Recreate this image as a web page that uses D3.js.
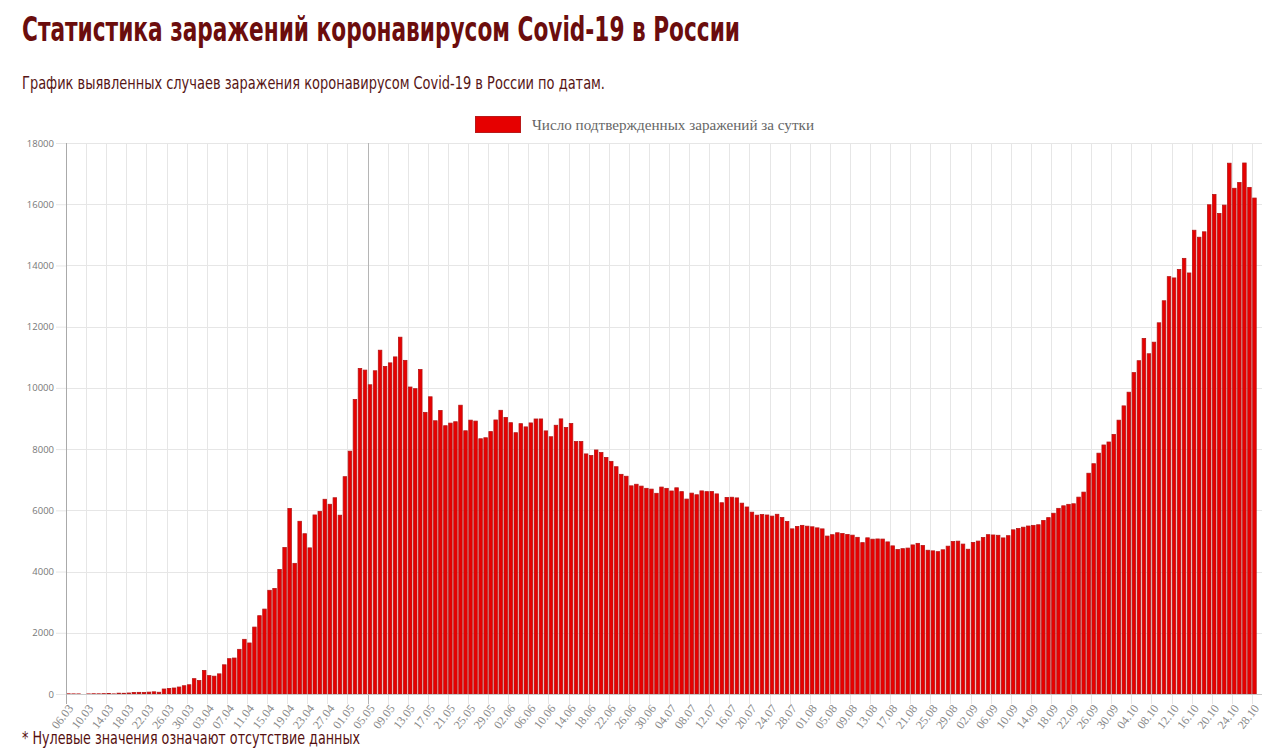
<!DOCTYPE html>
<html>
<head>
<meta charset="utf-8">
<script src="https://cdn.jsdelivr.net/npm/d3@7"></script>
<style>
  html, body { margin: 0; padding: 0; background: #fff; }
  svg { display: block; }
</style>
</head>
<body>
<svg id="chart" width="1280" height="749"></svg>
<script>
// ---------------- DATA ----------------
const titleText = "Статистика заражений коронавирусом Covid-19 в России";
const subtitleText = "График выявленных случаев заражения коронавирусом Covid-19 в России по датам.";
const noteText = "* Нулевые значения означают отсутствие данных";
const seriesName = "Число подтвержденных заражений за сутки";

const datesMar = ["06.03","07.03","08.03","09.03","10.03","11.03","12.03","13.03","14.03","15.03","16.03","17.03","18.03","19.03","20.03","21.03","22.03","23.03","24.03","25.03","26.03","27.03","28.03","29.03","30.03","31.03"];
const datesApr = ["01.04","02.04","03.04","04.04","05.04","06.04","07.04","08.04","09.04","10.04","11.04","12.04","13.04","14.04","15.04","16.04","17.04","18.04","19.04","20.04","21.04","22.04","23.04","24.04","25.04","26.04","27.04","28.04","29.04","30.04"];
const datesMay = ["01.05","02.05","03.05","04.05","05.05","06.05","07.05","08.05","09.05","10.05","11.05","12.05","13.05","14.05","15.05","16.05","17.05","18.05","19.05","20.05","21.05","22.05","23.05","24.05","25.05","26.05","27.05","28.05","29.05","30.05","31.05"];
const datesJun = ["01.06","02.06","03.06","04.06","05.06","06.06","07.06","08.06","09.06","10.06","11.06","12.06","13.06","14.06","15.06","16.06","17.06","18.06","19.06","20.06","21.06","22.06","23.06","24.06","25.06","26.06","27.06","28.06","29.06","30.06"];
const datesJul = ["01.07","02.07","03.07","04.07","05.07","06.07","07.07","08.07","09.07","10.07","11.07","12.07","13.07","14.07","15.07","16.07","17.07","18.07","19.07","20.07","21.07","22.07","23.07","24.07","25.07","26.07","27.07","28.07","29.07","30.07","31.07"];
const datesAug = ["01.08","02.08","03.08","04.08","05.08","06.08","07.08","08.08","09.08","10.08","11.08","12.08","13.08","14.08","15.08","16.08","17.08","18.08","19.08","20.08","21.08","22.08","23.08","24.08","25.08","26.08","27.08","28.08","29.08","30.08","31.08"];
const datesSep = ["01.09","02.09","03.09","04.09","05.09","06.09","07.09","08.09","09.09","10.09","11.09","12.09","13.09","14.09","15.09","16.09","17.09","18.09","19.09","20.09","21.09","22.09","23.09","24.09","25.09","26.09","27.09","28.09","29.09","30.09"];
const datesOct = ["01.10","02.10","03.10","04.10","05.10","06.10","07.10","08.10","09.10","10.10","11.10","12.10","13.10","14.10","15.10","16.10","17.10","18.10","19.10","20.10","21.10","22.10","23.10","24.10","25.10","26.10","27.10","28.10","29.10"];

const casesMar = [6,4,3,0,3,8,6,11,14,4,27,24,33,52,54,53,61,71,57,163,182,196,228,270,302,501];
const casesApr = [440,771,601,582,658,954,1154,1175,1459,1786,1667,2186,2558,2774,3388,3448,4070,4785,6060,4268,5642,5236,4774,5849,5966,6361,6198,6411,5841,7099];
const casesMay = [7933,9623,10633,10581,10102,10559,11231,10699,10817,11012,11656,10899,10028,9974,10598,9200,9709,8926,9263,8764,8849,8894,9434,8599,8946,8915,8338,8371,8572,8952,9268];
const casesJun = [9035,8863,8536,8831,8726,8855,8984,8985,8595,8404,8779,8987,8706,8835,8246,8248,7843,7790,7972,7889,7728,7600,7425,7176,7113,6800,6852,6791,6719,6693];
const casesJul = [6556,6760,6718,6632,6736,6611,6368,6562,6509,6635,6611,6615,6537,6248,6422,6428,6406,6234,6109,5940,5842,5862,5848,5811,5871,5765,5635,5395,5475,5509,5482];
const casesAug = [5462,5427,5394,5159,5204,5267,5241,5212,5189,5118,4945,5102,5057,5065,5061,4969,4839,4718,4748,4767,4870,4921,4852,4696,4676,4650,4711,4829,4980,4993,4897];
const casesSep = [4729,4952,4995,5110,5205,5195,5185,5099,5172,5363,5406,5449,5488,5509,5529,5670,5762,5905,6065,6148,6196,6215,6431,6595,7212,7523,7867,8135,8232,8481];
const casesOct = [8945,9412,9859,10499,10888,11615,11115,11493,12126,12846,13634,13592,13868,14231,13754,15150,14922,15099,15982,16319,15700,15971,17340,16521,16710,17347,16550,16202,0];

const yTicks = [0,2000,4000,6000,8000,10000,12000,14000,16000,18000];
const labelEvery = 4;

const dates = [].concat(datesMar,datesApr,datesMay,datesJun,datesJul,datesAug,datesSep,datesOct);
const cases = [].concat(casesMar,casesApr,casesMay,casesJun,casesJul,casesAug,casesSep,casesOct);
const rows = dates.map((d,i) => ({date: d, value: cases[i]}));
const labelDates = dates.filter((d,i) => i % labelEvery === 0 && i < dates.length - 1);

// ---------------- LAYOUT ----------------
const plot = {left: 66, right: 1262, top: 143, bottom: 694};
const padInner = 0.3;

const svg = d3.select("#chart");

const x = d3.scaleBand()
  .domain(dates)
  .range([plot.left, plot.right])
  .paddingInner(padInner)
  .paddingOuter(padInner / 2);
const step = x.step();

const y = d3.scaleLinear()
  .domain([0, 18000])
  .range([plot.bottom, plot.top]);

// Titles
const narrow = "'Liberation Sans Narrow', 'DejaVu Sans Condensed', 'Noto Sans', sans-serif";
svg.append("text")
  .attr("x", 22).attr("y", 41)
  .attr("font-family", narrow)
  .attr("font-weight", "bold")
  .attr("font-size", 33)
  .attr("fill", "#6b0d0d")
  .attr("textLength", 718)
  .attr("lengthAdjust", "spacingAndGlyphs")
  .text(titleText);

svg.append("text")
  .attr("x", 22).attr("y", 89)
  .attr("font-family", narrow)
  .attr("font-size", 17)
  .attr("fill", "#561515")
  .attr("textLength", 583)
  .attr("lengthAdjust", "spacingAndGlyphs")
  .text(subtitleText);

svg.append("text")
  .attr("x", 22).attr("y", 744)
  .attr("font-family", narrow)
  .attr("font-size", 17)
  .attr("fill", "#561010")
  .attr("textLength", 338)
  .attr("lengthAdjust", "spacingAndGlyphs")
  .text(noteText);

// Legend
const legend = svg.append("g");
legend.append("rect")
  .attr("x", 475.5).attr("y", 116.5).attr("width", 45).attr("height", 16)
  .attr("fill", "#e60000").attr("stroke", "#b81a1a").attr("stroke-width", 1);
legend.append("text")
  .attr("x", 532).attr("y", 125)
  .attr("dy", "0.35em")
  .attr("font-family", "'Liberation Serif', 'DejaVu Serif', serif")
  .attr("font-size", 15)
  .attr("fill", "#666")
  .attr("textLength", 282)
  .attr("lengthAdjust", "spacingAndGlyphs")
  .text(seriesName);

// Horizontal grid (via axis)
const yGrid = svg.append("g")
  .attr("transform", `translate(${plot.left},0)`)
  .call(d3.axisLeft(y).tickValues(yTicks).tickSize(-(plot.right - plot.left)).tickFormat(""));
yGrid.select(".domain").remove();
yGrid.selectAll("line").attr("stroke", "#e6e6e6").attr("stroke-width", 1).attr("shape-rendering", "crispEdges");

// Vertical grid lines at category boundaries of labelled ticks (with tick marks below axis)
const gridX = d => Math.round(x(d) - step * padInner / 2) + 0.5;
svg.append("g").selectAll("line")
  .data(labelDates)
  .join("line")
  .attr("x1", gridX).attr("x2", gridX)
  .attr("y1", plot.top).attr("y2", plot.bottom + 10)
  .attr("stroke", (d,i) => i === 0 ? "#aaa" : (d === "05.05" ? "#b5b5b5" : "#e6e6e6"))
  .attr("stroke-width", 1)
  .attr("shape-rendering", "crispEdges");

// Bars
svg.append("g").selectAll("rect")
  .data(rows.filter(r => r.value > 0))
  .join("rect")
  .attr("x", d => x(d.date))
  .attr("y", d => y(d.value))
  .attr("width", x.bandwidth())
  .attr("height", d => y(0) - y(d.value))
  .attr("fill", "#e80000")
  .attr("stroke", "#b51616")
  .attr("stroke-width", 0.8);

// X axis line (zero line)
svg.append("line")
  .attr("x1", plot.left).attr("x2", plot.right)
  .attr("y1", plot.bottom + 0.5).attr("y2", plot.bottom + 0.5)
  .attr("stroke", "#c8c8c8").attr("stroke-width", 1)
  .attr("shape-rendering", "crispEdges");

// Y axis
const yAxis = svg.append("g")
  .attr("transform", `translate(${plot.left},0)`)
  .call(d3.axisLeft(y).tickValues(yTicks).tickSize(10).tickPadding(2).tickFormat(d3.format("d")));
yAxis.select(".domain").attr("stroke", "#aaa");
yAxis.selectAll(".tick line").attr("stroke", "#e6e6e6");
yAxis.selectAll("text")
  .attr("font-family", "'Open Sans', 'Noto Sans', sans-serif")
  .attr("font-size", 9.5)
  .attr("fill", "#777");

// X axis labels (rotated)
const xAxis = svg.append("g")
  .attr("transform", `translate(0,${plot.bottom})`)
  .call(d3.axisBottom(x).tickValues(labelDates).tickSize(0).tickPadding(0));
xAxis.select(".domain").remove();
xAxis.selectAll(".tick text")
  .attr("font-family", "'Liberation Serif', 'DejaVu Serif', serif")
  .attr("font-size", 12)
  .attr("fill", "#888")
  .attr("text-anchor", "end")
  .attr("dy", "0.35em")
  .attr("transform", "translate(2,12) rotate(-52)");
</script>
</body>
</html>
